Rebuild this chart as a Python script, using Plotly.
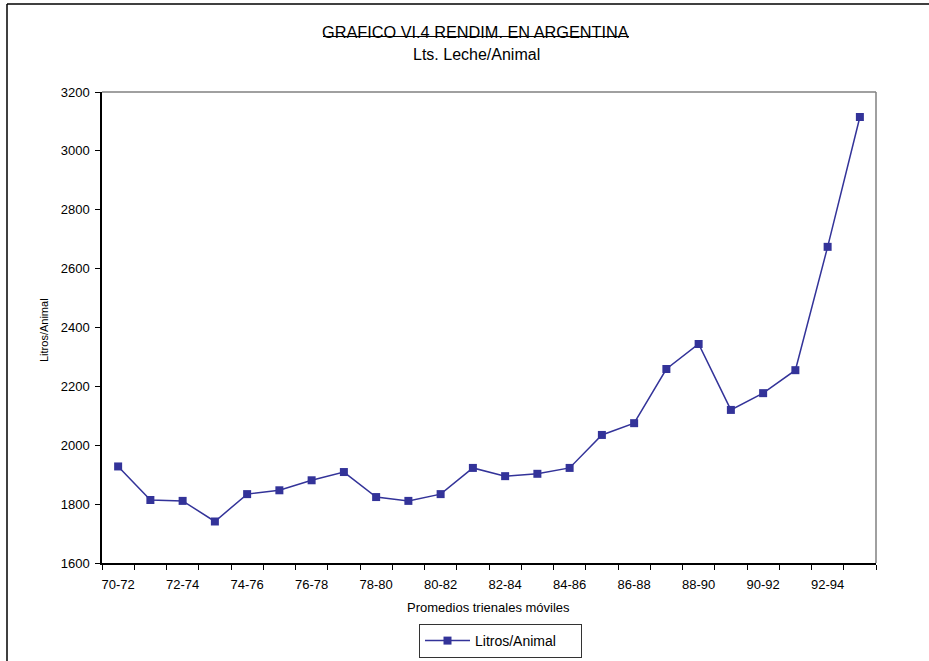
import plotly.graph_objects as go

# Three-year moving-average periods and milk yield per animal (litres)
periods = ["70-72", "71-73", "72-74", "73-75", "74-76", "75-77", "76-78", "77-79",
           "78-80", "79-81", "80-82", "81-83", "82-84", "83-85", "84-86", "85-87",
           "86-88", "87-89", "88-90", "89-91", "90-92", "91-93", "92-94", "93-95"]
litros_animal = [1928, 1814, 1811, 1741, 1834, 1847, 1881, 1909,
                 1824, 1811, 1834, 1923, 1895, 1903, 1923, 2035,
                 2075, 2259, 2344, 2120, 2177, 2255, 2674, 3115]
y_ticks = [1600, 1800, 2000, 2200, 2400, 2600, 2800, 3000, 3200]

# label every other period on the x axis
x_ticktext = [p if i % 2 == 0 else "" for i, p in enumerate(periods)]

W, H = 929, 661
L, R, T, B = 102, 876, 92, 563  # plot area in pixels


def px(xp):
    return (xp - L) / (R - L)


def py(yp):
    return (B - yp) / (B - T)


FONT = "Liberation Sans, Arial, sans-serif"
NAVY = "#333399"
NBSP = "\u00a0"

fig = go.Figure()
fig.add_trace(go.Scatter(
    x=periods, y=litros_animal, mode="lines+markers",
    name="Litros/Animal" + NBSP * 5,
    line=dict(color=NAVY, width=1.5),
    marker=dict(symbol="square", size=8, color=NAVY),
))

fig.update_layout(
    width=W, height=H,
    margin=dict(l=L, r=W - R, t=T, b=H - B, autoexpand=False),
    paper_bgcolor="white", plot_bgcolor="white",
    font=dict(family=FONT, size=13, color="black"),
    showlegend=True,
    legend=dict(
        xref="container", yref="container",
        x=419 / W, y=1 - 624 / H, xanchor="left", yanchor="top",
        bordercolor="#333333", borderwidth=1, bgcolor="white",
        font=dict(size=14, family=FONT), itemwidth=45,
    ),
    xaxis=dict(
        type="category", categoryorder="array", categoryarray=periods,
        tickmode="array", tickvals=periods, ticktext=x_ticktext,
        tickson="boundaries", ticks="outside", ticklen=5, tickcolor="black",
        showline=True, linecolor="black", linewidth=1.5, showgrid=False,
        tickangle=0, tickfont=dict(size=13), ticklabelstandoff=9,
        automargin=False,
        range=[-0.5, len(periods) - 0.5],
    ),
    yaxis=dict(
        range=[1600, 3200], tickmode="array", tickvals=y_ticks,
        ticks="outside", ticklen=5, tickcolor="black",
        showline=True, linecolor="black", linewidth=1.5, showgrid=False,
        zeroline=False, tickfont=dict(size=13), ticklabelstandoff=3,
        automargin=False,
    ),
    shapes=[
        # gray frame on the top and right of the plot area
        dict(type="line", xref="paper", yref="paper", x0=0, x1=1, y0=1, y1=1,
             line=dict(color="#808080", width=1.5)),
        dict(type="line", xref="paper", yref="paper", x0=1, x1=1, y0=0, y1=1,
             line=dict(color="#808080", width=1.5)),
        # outer page frame (left and top edges)
        dict(type="line", xref="paper", yref="paper", x0=px(7), x1=px(7), y0=py(4), y1=py(670),
             line=dict(color="black", width=1.5)),
        dict(type="line", xref="paper", yref="paper", x0=px(7), x1=px(940), y0=py(4), y1=py(4),
             line=dict(color="black", width=1.5)),
        # title rule
        dict(type="line", xref="paper", yref="paper", x0=px(323), x1=px(629), y0=py(36.5), y1=py(36.5),
             line=dict(color="black", width=1)),
    ],
    annotations=[
        dict(text="GRAFICO VI.4 RENDIM. EN ARGENTINA", xref="paper", yref="paper",
             x=px(475.5), y=py(32), xanchor="center", yanchor="middle", showarrow=False,
             font=dict(size=16.3, family=FONT)),
        dict(text="Lts. Leche/Animal", xref="paper", yref="paper",
             x=px(476.5), y=py(54), xanchor="center", yanchor="middle", showarrow=False,
             font=dict(size=16, family=FONT)),
        dict(text="Promedios trienales móviles", xref="paper", yref="paper",
             x=px(488), y=py(607), xanchor="center", yanchor="middle", showarrow=False,
             font=dict(size=13, family=FONT)),
        dict(text="Litros/Animal", xref="paper", yref="paper", textangle=-90,
             x=px(44), y=py(330), xanchor="center", yanchor="middle", showarrow=False,
             font=dict(size=11, family=FONT)),
    ],
)

fig.write_html("out.html")
